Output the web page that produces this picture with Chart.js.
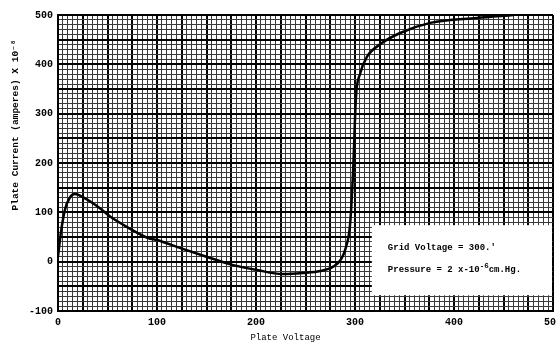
<!DOCTYPE html>
<html lang="en">
<head>
  <meta charset="UTF-8">
  <title>Plate Current vs Plate Voltage</title>
  <script src="https://cdn.jsdelivr.net/npm/chart.js"></script>
  <style>
    body {
      margin: 0;
      background: #ffffff;
    }
    .frame {
      width: 556px;
      height: 345px;
      overflow: hidden;
      position: relative;
    }
    canvas {
      display: block;
    }
  </style>
</head>
<body>
  <div class="frame">
    <canvas id="plateChart" width="575" height="345"></canvas>
  </div>

  <script>
    const plateVoltage = [0, 3, 7, 12, 17, 25, 40, 53, 70, 91, 100, 123, 150, 177, 201, 227, 247, 265, 278, 286, 291, 295, 298, 301, 305, 312, 325, 345, 376, 423, 460];
    const plateCurrent = [10, 60, 105, 130, 137, 131, 112, 91, 70, 48, 44, 28, 10, -7, -17, -25, -23, -19, -10, 5, 30, 75, 180, 334, 380, 415, 440, 463, 484, 494, 500];

    const xLabelTicks = [0, 100, 200, 300, 400, 500];
    const yLabelTicks = [-100, 0, 100, 200, 300, 400, 500];

    const noteLines = ['Grid Voltage = 300.\'', 'Pressure = 2 x-10'];
    // note box extent in data units (voltage left edge, current bottom/top)
    const noteBox = { x0: 317, y0: -68, y1: 74 };

    const monoFont = "'Liberation Mono', 'DejaVu Sans Mono', monospace";

    const paperPlugin = {
      id: 'paper',
      afterDatasetsDraw(chart) {
        const ctx = chart.ctx;
        const xs = chart.scales.x;
        const ys = chart.scales.y;
        const area = chart.chartArea;

        // white inset with the test conditions
        const left = xs.getPixelForValue(noteBox.x0);
        const top = ys.getPixelForValue(noteBox.y1);
        const bottom = ys.getPixelForValue(noteBox.y0);
        ctx.save();
        ctx.fillStyle = '#fff';
        ctx.fillRect(left, top, area.right - left - 1, bottom - top);
        ctx.fillStyle = '#000';
        ctx.textBaseline = 'middle';
        const tx = left + 16;
        ctx.font = 'bold 9px ' + monoFont;
        ctx.fillText(noteLines[0], tx, top + 23);
        ctx.fillText(noteLines[1], tx, top + 45);
        let w = ctx.measureText(noteLines[1]).width;
        ctx.font = 'bold 7.5px ' + monoFont;
        ctx.fillText('-6', tx + w, top + 41);
        w += ctx.measureText('-6').width;
        ctx.font = 'bold 9px ' + monoFont;
        ctx.fillText('cm.Hg.', tx + w, top + 45);
        ctx.restore();
      },
      afterDraw(chart) {
        const ctx = chart.ctx;
        const area = chart.chartArea;
        ctx.save();
        ctx.fillStyle = '#000';
        ctx.font = '9px ' + monoFont;
        ctx.textAlign = 'center';
        ctx.textBaseline = 'middle';
        ctx.fillText('Plate Voltage', (area.left + area.right) / 2 - 20, 338);

        ctx.translate(16, 125);
        ctx.rotate(-Math.PI / 2);
        ctx.font = 'bold 9.5px ' + monoFont;
        ctx.fillText('Plate Current (amperes) X 10\u207B\u2078', 0, 0);
        ctx.restore();
      }
    };

    function gridWidth(ctx, heavyStep) {
      const v = ctx.tick ? ctx.tick.value : 0;
      return Math.round(v) % heavyStep === 0 ? 2 : 1;
    }
    function gridColor(ctx, heavyStep) {
      const v = ctx.tick ? ctx.tick.value : 0;
      return Math.round(v) % heavyStep === 0 ? '#000' : '#3a3a3a';
    }

    document.addEventListener("DOMContentLoaded", function () {
      const ctx = document.getElementById('plateChart').getContext('2d');

      new Chart(ctx, {
        type: 'line',
        data: {
          datasets: [{
            label: 'Plate Current',
            data: plateVoltage.map((v, i) => ({ x: v, y: plateCurrent[i] })),
            borderColor: '#000',
            borderWidth: 2.5,
            cubicInterpolationMode: 'monotone',
            pointRadius: 0,
            fill: false
          }]
        },
        options: {
          responsive: false,
          animation: false,
          devicePixelRatio: 1,
          layout: { padding: { top: 15, right: 22, left: 0, bottom: 0 } },
          plugins: {
            legend: { display: false },
            tooltip: { enabled: false }
          },
          scales: {
            x: {
              type: 'linear',
              min: 0,
              max: 500,
              afterFit(scale) { scale.height = 34; },
              ticks: {
                stepSize: 5,
                autoSkip: false,
                maxRotation: 0,
                maxTicksLimit: 1000,
                padding: 5,
                color: '#000',
                font: { family: monoFont, size: 10, weight: 'bold' },
                callback: v => xLabelTicks.includes(v) ? v : ''
              },
              grid: {
                drawTicks: false,
                lineWidth: c => gridWidth(c, 25),
                color: c => gridColor(c, 25)
              },
              border: { display: true, color: '#000', width: 2 }
            },
            y: {
              type: 'linear',
              min: -100,
              max: 500,
              afterFit(scale) { scale.width = 58; },
              ticks: {
                stepSize: 10,
                autoSkip: false,
                maxTicksLimit: 1000,
                padding: 5,
                color: '#000',
                font: { family: monoFont, size: 10, weight: 'bold' },
                callback: v => yLabelTicks.includes(v) ? v : ''
              },
              grid: {
                drawTicks: false,
                lineWidth: c => gridWidth(c, 50),
                color: c => gridColor(c, 50)
              },
              border: { display: true, color: '#000', width: 2 }
            }
          }
        },
        plugins: [paperPlugin]
      });
    });
  </script>
</body>
</html>
